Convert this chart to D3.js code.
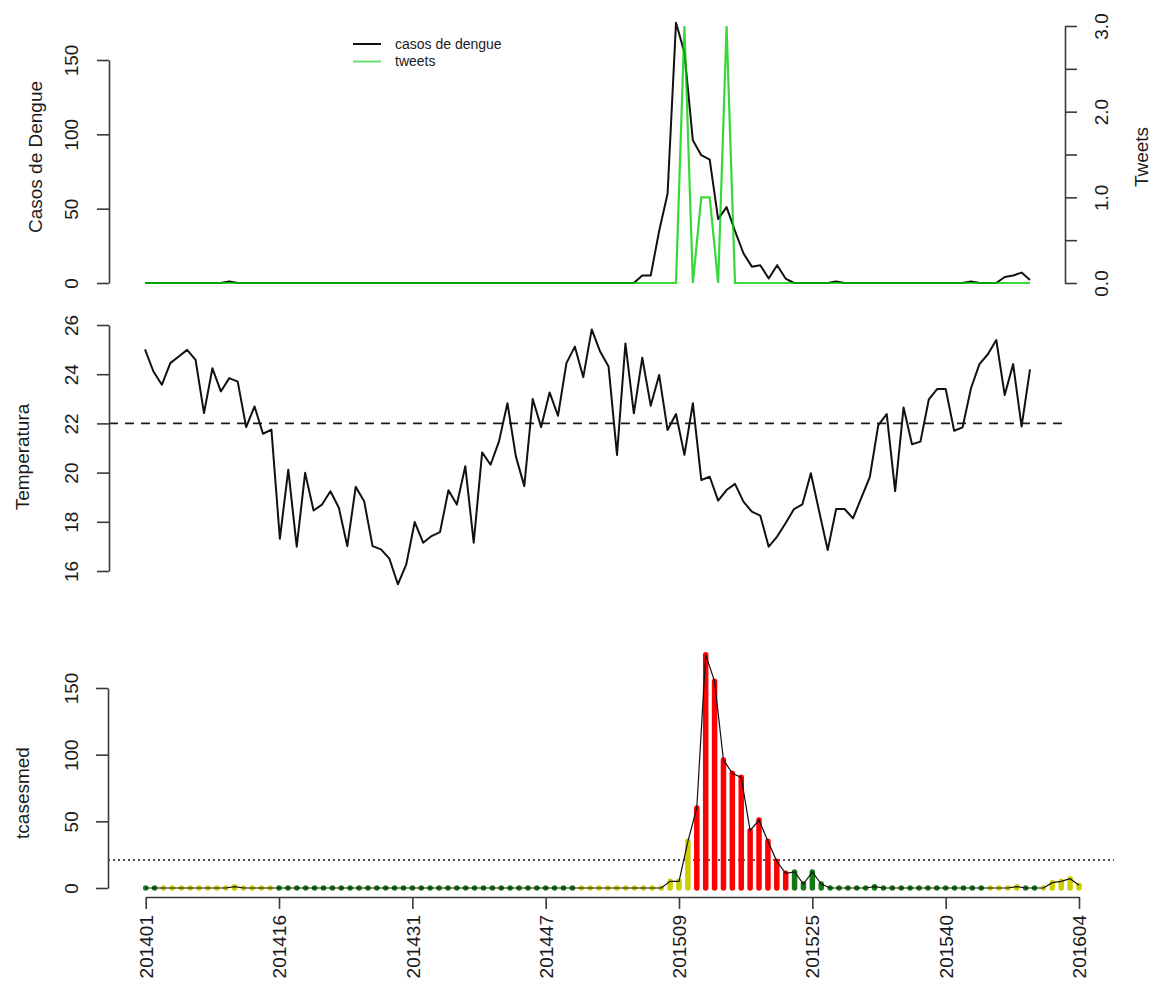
<!DOCTYPE html>
<html><head><meta charset="utf-8">
<script src="https://cdn.jsdelivr.net/npm/d3@7"></script>
<style>
body{margin:0;background:#fff}
text{font-family:"Liberation Sans",Arial,Helvetica,sans-serif;fill:#1a1a1a}
</style>
</head><body>
<svg id="chart" width="1154" height="995"></svg>
<script>
// ---------- data ----------
const weeks = [
"201401","201402","201403","201404","201405","201406","201407","201408","201409","201410",
"201411","201412","201413","201414","201415","201416","201417","201418","201419","201420",
"201421","201422","201423","201424","201425","201426","201427","201428","201429","201430",
"201431","201433","201434","201435","201436","201437","201438","201439","201440","201441",
"201442","201443","201444","201445","201446","201447","201448","201449","201450","201451",
"201452","201453","201501","201502","201503","201504","201505","201506","201507","201508",
"201509","201510","201511","201512","201513","201514","201515","201516","201518","201519",
"201520","201521","201522","201523","201524","201525","201526","201527","201528","201529",
"201530","201531","201532","201533","201534","201535","201536","201537","201538","201539",
"201540","201541","201542","201543","201544","201545","201546","201547","201548","201549",
"201550","201551","201552","201602","201603","201604"];

const xTickLabels = ["201401","201416","201431","201447","201509","201525","201540","201604"];

const casosDengue = [
0,0,0,0,0,0,0,0,0,0,
1,0,0,0,0,0,0,0,0,0,
0,0,0,0,0,0,0,0,0,0,
0,0,0,0,0,0,0,0,0,0,
0,0,0,0,0,0,0,0,0,0,
0,0,0,0,0,0,0,0,0,5,
5,35,60,175,155,96,86,83,43,51,
35,20,11,12,3,12,3,0,0,0,
0,0,1,0,0,0,0,0,0,0,
0,0,0,0,0,0,0,0,1,0,
0,0,4,5,7,2];

const tweets = [
0,0,0,0,0,0,0,0,0,0,
0,0,0,0,0,0,0,0,0,0,
0,0,0,0,0,0,0,0,0,0,
0,0,0,0,0,0,0,0,0,0,
0,0,0,0,0,0,0,0,0,0,
0,0,0,0,0,0,0,0,0,0,
0,0,0,0,3,0,1,1,0,3,
0,0,0,0,0,0,0,0,0,0,
0,0,0,0,0,0,0,0,0,0,
0,0,0,0,0,0,0,0,0,0,
0,0,0,0,0,0];

const temperatura = [
25.01,24.11,23.57,24.45,24.72,24.99,24.58,22.42,24.24,23.30,
23.84,23.70,21.85,22.69,21.58,21.75,17.31,20.12,16.99,19.99,
18.46,18.70,19.24,18.57,17.01,19.42,18.84,17.01,16.88,16.50,
15.46,16.27,17.99,17.15,17.42,17.58,19.28,18.70,20.26,17.15,
20.82,20.32,21.27,22.82,20.66,19.45,22.99,21.85,23.26,22.31,
24.45,25.12,23.88,25.82,24.92,24.31,20.72,25.25,22.41,24.67,
22.72,23.97,21.73,22.38,20.72,22.82,19.70,19.83,18.86,19.29,
19.54,18.82,18.41,18.25,16.99,17.40,17.94,18.52,18.71,19.97,
18.40,16.85,18.52,18.52,18.14,18.98,19.83,21.93,22.38,19.25,
22.65,21.15,21.26,22.98,23.40,23.40,21.70,21.84,23.43,24.41,
24.81,25.39,23.15,24.41,21.87,24.20];
const temperaturaRef = 22;

const tcasesmed = [
0,0,0,0,0,0,0,0,0,0,
1,0,0,0,0,0,0,0,0,0,
0,0,0,0,0,0,0,0,0,0,
0,0,0,0,0,0,0,0,0,0,
0,0,0,0,0,0,0,0,0,0,
0,0,0,0,0,0,0,0,0,5,
5,35,60,175,155,96,86,83,43,51,
35,20,11,12,3,12,3,0,0,0,
0,0,1,0,0,0,0,0,0,0,
0,0,0,0,0,0,0,0,1,0,
0,0,4,5,7,2];
const umbral = 21;

// alert level of each week: g = verde, y = amarillo, r = rojo
const nivel = [
"g","g","y","y","y","y","y","y","y","y",
"y","y","y","y","y","g","g","g","g","g",
"g","g","g","g","g","g","g","g","g","g",
"g","g","g","g","g","g","g","g","g","g",
"g","g","g","g","g","g","g","g","g","y",
"y","y","y","y","y","y","y","y","y","y",
"y","y","r","r","r","r","r","r","r","r",
"r","r","r","g","g","g","g","g","g","g",
"g","g","g","g","g","g","g","g","g","g",
"g","g","g","g","g","y","y","y","y","g",
"g","y","y","y","y","y"];

// ---------- drawing ----------
const svg = d3.select("#chart");
svg.append("rect").attr("width",1154).attr("height",995).attr("fill","#fff");
const AX = "#3a3a3a", FS = 19;

function styleAxis(g){
  g.select(".domain").attr("stroke",AX).attr("stroke-width",1.6);
  g.selectAll(".tick line").attr("stroke",AX).attr("stroke-width",1.6);
  g.selectAll(".tick text").attr("font-size",FS).attr("fill","#1a1a1a")
   .attr("font-family","Liberation Sans, Arial, sans-serif");
}
function rotLabels(g, dx){
  g.selectAll(".tick text").attr("x",0).attr("y",0).attr("dy","0.35em")
   .attr("text-anchor","middle").attr("transform",`translate(${dx},0) rotate(-90)`);
}
function vTitle(x, y, t){
  svg.append("text").attr("transform",`translate(${x},${y}) rotate(-90)`)
    .attr("text-anchor","middle").attr("dy","0.35em").attr("font-size",FS).text(t);
}

// ----- top panel -----
const xTop = d3.scalePoint().domain(weeks).range([145,1030]);
const yCasos = d3.scaleLinear().domain([0,150]).range([283,60]);
const yTweets = d3.scaleLinear().domain([0,3]).range([283,26]);

svg.append("path").datum(casosDengue)
  .attr("fill","none").attr("stroke","#111").attr("stroke-width",2).attr("stroke-linejoin","round")
  .attr("d", d3.line().x((d,i)=>xTop(weeks[i])).y(d=>yCasos(d)));
svg.append("path").datum(tweets)
  .attr("fill","none").attr("stroke","#00cd00").attr("stroke-opacity",0.78).attr("stroke-width",2.2)
  .attr("d", d3.line().x((d,i)=>xTop(weeks[i])).y(d=>yTweets(d)));

const gL1 = svg.append("g").attr("transform","translate(109,0)")
  .call(d3.axisLeft(yCasos).tickValues([0,50,100,150]).tickSize(12).tickSizeOuter(0));
styleAxis(gL1); rotLabels(gL1,-38);
const gR1 = svg.append("g").attr("transform","translate(1065,0)")
  .call(d3.axisRight(yTweets).tickValues([0,0.5,1,1.5,2,2.5,3]).tickSize(12).tickSizeOuter(0)
    .tickFormat(d=> Number.isInteger(d) ? d3.format(".1f")(d) : ""));
styleAxis(gR1); rotLabels(gR1,36);
vTitle(35,157,"Casos de Dengue");
vTitle(1141,157,"Tweets");

// legend
const legend = [{label:"casos de dengue", color:"#111", op:1},{label:"tweets", color:"#00cd00", op:0.6}];
legend.forEach((d,i)=>{
  const y = 44 + i*17.5;
  svg.append("line").attr("x1",353).attr("x2",381).attr("y1",y).attr("y2",y)
    .attr("stroke",d.color).attr("stroke-opacity",d.op).attr("stroke-width",2);
  svg.append("text").attr("x",395).attr("y",y).attr("dy","0.35em").attr("font-size",14).text(d.label);
});

// ----- middle panel -----
const yTemp = d3.scaleLinear().domain([16,26]).range([571,325]);
svg.append("line").attr("x1",109).attr("x2",1065).attr("y1",yTemp(temperaturaRef)).attr("y2",yTemp(temperaturaRef))
  .attr("stroke","#1a1a1a").attr("stroke-width",1.6).attr("stroke-dasharray","9,7");
svg.append("path").datum(temperatura)
  .attr("fill","none").attr("stroke","#111").attr("stroke-width",2).attr("stroke-linejoin","round")
  .attr("d", d3.line().x((d,i)=>xTop(weeks[i])).y(d=>yTemp(d)));
const gL2 = svg.append("g").attr("transform","translate(109,0)")
  .call(d3.axisLeft(yTemp).tickValues([16,18,20,22,24,26]).tickSize(12).tickSizeOuter(0));
styleAxis(gL2); rotLabels(gL2,-38);
vTitle(22,457,"Temperatura");

// ----- bottom panel -----
const xBot = d3.scalePoint().domain(weeks).range([145.7,1079]);
const yBot = d3.scaleLinear().domain([0,150]).range([888,688]);
const colorNivel = d3.scaleOrdinal().domain(["g","y","r"]).range(["#157a15","#cdcd00","#ff0000"]);

svg.append("line").attr("x1",108).attr("x2",1114).attr("y1",yBot(umbral)).attr("y2",yBot(umbral))
  .attr("stroke","#1a1a1a").attr("stroke-width",1.5).attr("stroke-dasharray","2,3");

svg.append("g").selectAll("path").data(tcasesmed).join("path")
  .attr("d",(d,i)=>`M${xBot(weeks[i])},${yBot(0)}L${xBot(weeks[i])},${yBot(d)}`)
  .attr("stroke",(d,i)=>colorNivel(nivel[i])).attr("stroke-width",5.5).attr("stroke-linecap","round")
  .attr("fill","none");
svg.append("path").datum(tcasesmed)
  .attr("fill","none").attr("stroke","#111").attr("stroke-width",1.2)
  .attr("d", d3.line().x((d,i)=>xBot(weeks[i])).y(d=>yBot(d)));

const gL3 = svg.append("g").attr("transform","translate(108,0)")
  .call(d3.axisLeft(yBot).tickValues([0,50,100,150]).tickSize(12).tickSizeOuter(0));
styleAxis(gL3); rotLabels(gL3,-37);
vTitle(22,793,"tcasesmed");

const gB = svg.append("g").attr("transform","translate(0,897)")
  .call(d3.axisBottom(xBot).tickValues(xTickLabels).tickSize(12).tickSizeOuter(0));
styleAxis(gB);
gB.selectAll(".tick text").attr("x",0).attr("y",0).attr("dy","0.35em").attr("text-anchor","end")
  .attr("transform","translate(0,18) rotate(-90)");
</script>
</body></html>
